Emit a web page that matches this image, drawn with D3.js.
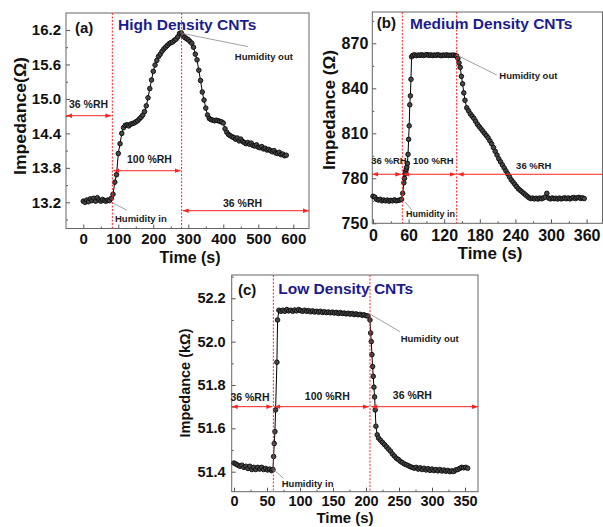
<!DOCTYPE html>
<html lang="en">
<head>
<meta charset="UTF-8">
<title>Impedance response of CNT humidity sensors</title>
<script src="https://d3js.org/d3.v7.min.js"></script>
<style>
  body { margin: 0; background: #fff; }
  svg text { font-family: Arial, "Liberation Sans", sans-serif; font-weight: bold; }
</style>
</head>
<body>
<svg id="chart" width="603" height="527"></svg>
<script>
// (a) high density CNTs, impedance in ohm, time in s
const aTime = [0,5,10,15,20,25,30,35,40,45,50,55,60,65,70,75,80,85,90,95,
  100,105,110,115,120,125,130,135,140,145,150,155,160,165,170,175,180,185,190,195,
  200,205,210,215,220,225,230,235,240,245,250,255,260,265,270,275,280,285,290,295,
  300,305,310,315,320,325,330,335,340,345,350,355,360,365,370,375,380,385,390,395,
  400,405,410,415,420,425,430,435,440,445,450,455,460,465,470,475,480,485,490,495,
  500,505,510,515,520,525,530,535,540,545,550,555,560,565,570,575,580];
const aImp = [13.22,13.20,13.24,13.21,13.26,13.23,13.27,13.22,13.28,13.24,
  13.22,13.25,13.23,13.22,13.24,13.23,13.27,13.34,13.55,13.68,
  14.05,14.22,14.40,14.50,14.54,14.55,14.53,14.56,14.57,14.58,
  14.60,14.62,14.65,14.68,14.72,14.78,14.88,15.02,15.18,15.33,
  15.48,15.59,15.67,15.74,15.78,15.83,15.87,15.90,15.93,15.96,
  15.98,15.99,16.02,16.04,16.08,16.14,16.15,16.10,16.07,16.05,
  16.03,16.00,15.97,15.90,15.78,15.68,15.50,15.32,15.12,14.98,
  14.84,14.72,14.66,14.64,14.63,14.62,14.63,14.62,14.61,14.60,
  14.58,14.48,14.42,14.38,14.36,14.34,14.33,14.30,14.32,14.27,
  14.30,14.26,14.24,14.22,14.24,14.21,14.23,14.19,14.18,14.20,
  14.16,14.15,14.17,14.13,14.14,14.11,14.12,14.10,14.08,14.10,
  14.06,14.05,14.07,14.03,14.04,14.01,14.02];

// (b) medium density CNTs, impedance in ohm
const bTime = [0,3,6,9,12,15,18,21,24,27,30,33,36,39,42,45,48,
  50,52,53,54,55,56,57,58,59,60,61,62,63,64,65,
  67,70,73,76,79,82,85,88,91,94,97,100,103,106,109,112,115,118,121,124,127,130,133,136,139,
  141,143,145,147,149,151,153,155,158,161,164,167,170,173,176,179,182,185,188,191,194,197,200,203,
  206,209,212,215,218,221,224,227,230,233,236,239,242,245,248,251,254,257,260,263,
  266,269,272,275,278,281,284,287,290,293,296,299,302,305,308,311,314,317,320,323,326,329,332,335,
  338,341,344,347,350,353,356];
const bImp = [768,767.5,766,765.5,766,765,765.5,765,765.5,764.8,765.3,765,765.6,765,765.2,765.5,766,
  770,777,780,783,784.5,786,787.5,790,796,806,815,829,835,846,861,
  862,862.3,861.8,862.2,862,862.4,861.9,862.2,862.5,862,862.3,861.9,862.2,862,862.4,862.1,861.8,862.2,862,862.3,861.9,862.1,862,862.2,861.8,
  861.5,860,857,854,848,843,837,832,827,825,823,821.5,820,818,816,814.5,813,811.5,810,808.5,807,805,803,800.5,
  798,795.5,793,791,789,787,785,783,781,779,777.5,776,774.5,773,772,771,770,769,768,767,
  766.5,766.8,766.3,766.7,766.2,766.8,766.4,766.9,767.5,770,766.8,766.3,766.9,766.4,766.7,766.2,766.8,766.3,766.6,767,766.4,766.9,766.3,766.8,
  767.2,766.5,767,767.3,766.6,767,766.5];

// (c) low density CNTs, impedance in kilo-ohm
const cTime = [0,3,6,9,12,15,18,21,24,27,30,33,36,39,42,45,48,51,54,57,
  59,60,61,62,63,65,66,68,
  71,74,77,80,83,86,89,92,95,98,101,104,107,110,113,116,119,122,125,128,131,134,137,140,143,
  146,149,152,155,158,161,164,167,170,173,176,179,182,185,188,191,194,197,200,203,
  206,207,208,209,210,211,212,213,214,215,217,219,
  222,225,228,231,234,237,240,243,246,249,252,255,258,261,264,267,270,273,276,279,282,285,288,
  291,294,297,300,303,306,309,312,315,318,321,324,327,330,333,336,339,342,345,348,351,354];
const cImp = [51.44,51.435,51.43,51.425,51.43,51.42,51.425,51.415,51.425,51.41,51.42,51.41,51.42,51.412,51.42,51.41,51.415,51.408,51.412,51.405,
  51.41,51.47,51.53,51.585,51.685,51.905,52.10,52.145,
  52.14,52.145,52.14,52.148,52.142,52.145,52.14,52.146,52.142,52.148,52.143,52.14,52.145,52.14,52.143,52.138,52.142,52.137,52.14,52.136,52.14,52.135,52.138,52.134,52.137,
  52.133,52.136,52.132,52.135,52.13,52.134,52.13,52.132,52.128,52.131,52.127,52.13,52.125,52.128,52.124,52.126,52.122,52.124,52.12,52.118,
  52.10,52.04,52.00,51.94,51.885,51.84,51.79,51.745,51.685,51.61,51.57,51.555,
  51.545,51.535,51.525,51.515,51.505,51.495,51.482,51.472,51.462,51.456,51.448,51.442,51.436,51.432,51.428,51.423,51.42,51.416,51.42,51.412,51.418,51.41,51.416,
  51.408,51.414,51.406,51.412,51.405,51.41,51.404,51.41,51.403,51.408,51.402,51.406,51.4,51.404,51.401,51.408,51.41,51.415,51.42,51.418,51.42,51.416];

// tick values
const aXTicks = [0,100,200,300,400,500,600];
const aYTicks = [13.2,13.8,14.4,15.0,15.6,16.2];
const bXTicks = [0,60,120,180,240,300,360];
const bYTicks = [750,780,810,840,870];
const cXTicks = [0,50,100,150,200,250,300,350];
const cYTicks = [51.4,51.6,51.8,52.0,52.2];

const svg = d3.select("#chart");
const red = "#ff2424";

// arrow head used on both ends of the red RH arrows
svg.append("defs").append("marker")
    .attr("id", "arrow")
    .attr("viewBox", "0 0 6 4.5")
    .attr("refX", 6).attr("refY", 2.25)
    .attr("markerWidth", 6).attr("markerHeight", 4.5)
    .attr("markerUnits", "userSpaceOnUse")
    .attr("preserveAspectRatio", "none")
    .attr("orient", "auto-start-reverse")
  .append("path")
    .attr("d", "M0,0L6,2.25L0,4.5z")
    .attr("fill", red);

function drawPanel(p) {
    const g = svg.append("g");
    const x = d3.scaleLinear().domain(p.xDomain).range([p.left, p.right]);
    const y = d3.scaleLinear().domain(p.yDomain).range([p.bottom, p.top]);

    // axes, ticks pointing inwards
    const xa = g.append("g")
        .attr("transform", `translate(0,${p.bottom})`)
        .call(d3.axisBottom(x).tickValues(p.xTicks).tickFormat(d3.format("d"))
            .tickSizeInner(-4).tickSizeOuter(0).tickPadding(p.xPad));
    g.append("g")
        .attr("transform", `translate(0,${p.bottom})`)
        .call(d3.axisBottom(x).tickValues(p.xMinor).tickFormat("").tickSizeInner(-2).tickSizeOuter(0));
    const ya = g.append("g")
        .attr("transform", `translate(${p.left},0)`)
        .call(d3.axisLeft(y).tickValues(p.yTicks).tickFormat(d3.format(p.yFmt))
            .tickSizeInner(-4).tickSizeOuter(0).tickPadding(p.yPad));
    g.append("g")
        .attr("transform", `translate(${p.left},0)`)
        .call(d3.axisLeft(y).tickValues(p.yMinor).tickFormat("").tickSizeInner(-2).tickSizeOuter(0));

    g.selectAll(".domain").remove();
    g.selectAll(".tick line").attr("stroke", "#555");
    xa.attr("font-size", p.tickFont).selectAll("text").attr("fill", "#111");
    ya.attr("font-size", p.tickFont).selectAll("text").attr("fill", "#111");

    // frame
    g.append("rect")
        .attr("x", p.left).attr("y", p.top)
        .attr("width", p.right - p.left).attr("height", p.bottom - p.top)
        .attr("fill", "none").attr("stroke", "#666").attr("stroke-width", 1);

    // impedance trace
    const pts = p.time.map((t, i) => ({ t: t, v: p.imp[i] }));
    g.append("path")
        .datum(pts)
        .attr("fill", "none")
        .attr("stroke", "#000")
        .attr("stroke-width", 1)
        .attr("d", d3.line().x(d => x(d.t)).y(d => y(d.v)));
    g.selectAll(".pt")
        .data(pts)
        .enter()
        .append("circle")
        .attr("cx", d => x(d.t))
        .attr("cy", d => y(d.v))
        .attr("r", 2.3)
        .attr("fill", "#474747")
        .attr("stroke", "#0a0a0a")
        .attr("stroke-width", 0.9);

    // humidity in / out switching lines
    p.vlines.forEach(t => {
        g.append("line")
            .attr("x1", x(t)).attr("x2", x(t))
            .attr("y1", p.top).attr("y2", p.bottom)
            .attr("stroke", red).attr("stroke-width", 1)
            .attr("stroke-dasharray", "2,1.5");
    });

    // RH arrows
    p.arrows.forEach(a => {
        const x1 = a.from === null ? p.left : x(a.from) + 1;
        const x2 = a.to === null ? p.right : x(a.to) - 1;
        g.append("line")
            .attr("x1", x1).attr("x2", x2)
            .attr("y1", y(a.v)).attr("y2", y(a.v))
            .attr("stroke", red).attr("stroke-width", 1)
            .attr("marker-start", "url(#arrow)")
            .attr("marker-end", a.noEnd ? null : "url(#arrow)");
    });

    // leader lines for the humidity labels
    p.leaders.forEach(l => {
        g.append("line")
            .attr("x1", x(l[0])).attr("y1", y(l[1]))
            .attr("x2", x(l[2])).attr("y2", y(l[3]))
            .attr("stroke", "#8a8a8a").attr("stroke-width", 0.8);
    });

    p.notes.forEach(n => {
        g.append("text")
            .attr("x", x(n.t)).attr("y", y(n.v))
            .attr("text-anchor", n.anchor || "middle")
            .attr("font-size", n.size)
            .attr("fill", "#1a1a1a")
            .text(n.text);
    });

    // panel letter and title
    g.append("text")
        .attr("x", p.left + p.tag[0]).attr("y", p.top + p.tag[1])
        .attr("font-size", 15).attr("fill", "#111")
        .text(p.letter);
    g.append("text")
        .attr("x", p.left + p.head[0]).attr("y", p.top + p.head[1])
        .attr("font-size", 15.5).attr("fill", "#1c1c8e")
        .text(p.title);

    // axis titles
    g.append("text")
        .attr("x", p.xLabel[0]).attr("y", p.xLabel[1])
        .attr("text-anchor", "middle")
        .attr("font-size", p.xLabel[2]).attr("fill", "#111")
        .text("Time (s)");
    g.append("text")
        .attr("transform", `translate(${p.yLabel[0]},${p.yLabel[1]}) rotate(-90)`)
        .attr("text-anchor", "middle")
        .attr("y", "0.26em")
        .attr("font-size", p.yLabel[2])
        .attr("textLength", p.yLabel[3])
        .attr("lengthAdjust", "spacingAndGlyphs")
        .attr("fill", "#111")
        .text(p.yText);
}

drawPanel({
    left: 66, top: 13, right: 309, bottom: 228.5,
    xDomain: [-49.4, 644.9], yDomain: [12.744, 16.496],
    xTicks: aXTicks, xMinor: [50,150,250,350,450,550],
    yTicks: aYTicks, yMinor: [12.9,13.5,14.1,14.7,15.3,15.9],
    yFmt: ".1f", tickFont: 15, xPad: 5, yPad: 5,
    time: aTime, imp: aImp,
    vlines: [83, 281],
    arrows: [{ v: 14.708, from: null, to: 83 }, { v: 13.75, from: 83, to: 281 }, { v: 13.054, from: 281, to: null }],
    leaders: [[85.7, 13.183, 124, 13.066], [281, 16.143, 471, 15.91]],
    notes: [
        { text: "36 %RH", t: 15, v: 14.84, size: 10.5 },
        { text: "100 %RH", t: 189, v: 13.884, size: 10.5 },
        { text: "36 %RH", t: 455, v: 13.118, size: 10.5 },
        { text: "Humidity in", t: 90.6, v: 12.857, size: 9.5, anchor: "start" },
        { text: "Humidity out", t: 433, v: 15.68, size: 9.5, anchor: "start" }
    ],
    letter: "(a)", tag: [9, 20], title: "High Density CNTs", head: [52, 17],
    xLabel: [190, 262.5, 16], yLabel: [21.5, 116, 16, 118], yText: "Impedance(\u03A9)"
});

drawPanel({
    left: 372.3, top: 12, right: 602.5, bottom: 223.3,
    xDomain: [-1.2, 386.8], yDomain: [750, 890.9],
    xTicks: bXTicks, xMinor: [30,90,150,210,270,330],
    yTicks: bYTicks, yMinor: [765,795,825,855,885],
    yFmt: "d", tickFont: 16, xPad: 6.5, yPad: 4,
    time: bTime, imp: bImp,
    vlines: [49.4, 141],
    arrows: [{ v: 782.7, from: null, to: 49.4 }, { v: 782.7, from: 49.4, to: 141 }, { v: 782.7, from: 141, to: null, noEnd: true }],
    leaders: [[54, 764.4, 65.2, 758.9], [141, 862.2, 208.5, 848.9]],
    notes: [
        { text: "36 %RH", t: 27, v: 789.5, size: 9.5 },
        { text: "100 %RH", t: 101.6, v: 789.5, size: 9.5 },
        { text: "36 %RH", t: 271, v: 786, size: 9.5 },
        { text: "Humidity in", t: 55.6, v: 754.2, size: 9, anchor: "start" },
        { text: "Humidity out", t: 212.9, v: 846.2, size: 9.5, anchor: "start" }
    ],
    letter: "(b)", tag: [4.5, 16], title: "Medium Density CNTs", head: [37.7, 17],
    xLabel: [490, 258.5, 17], yLabel: [331, 110, 16, 120], yText: "Impedance (\u03A9)"
});

drawPanel({
    left: 231.7, top: 275, right: 478, bottom: 491.7,
    xDomain: [-3.5, 369.7], yDomain: [51.3077, 52.3075],
    xTicks: cXTicks, xMinor: [25,75,125,175,225,275,325],
    yTicks: cYTicks, yMinor: [51.5,51.7,51.9,52.1,52.3],
    yFmt: ".1f", tickFont: 14.5, xPad: 4, yPad: 6,
    time: cTime, imp: cImp,
    vlines: [59.6, 206],
    arrows: [{ v: 51.70, from: null, to: 59.6 }, { v: 51.70, from: 59.6, to: 206 }, { v: 51.70, from: 206, to: null }],
    leaders: [[60.6, 51.408, 74.7, 51.37], [208.6, 52.123, 251.5, 52.046]],
    notes: [
        { text: "36 %RH", t: 24.2, v: 51.728, size: 10.5 },
        { text: "100 %RH", t: 141.4, v: 51.731, size: 10.5 },
        { text: "36 %RH", t: 270.3, v: 51.735, size: 10.5 },
        { text: "Humidity in", t: 72.3, v: 51.329, size: 9.5, anchor: "start" },
        { text: "Humidity out", t: 252.6, v: 51.998, size: 9.5, anchor: "start" }
    ],
    letter: "(c)", tag: [6.3, 19.5], title: "Low Density CNTs", head: [46.6, 19],
    xLabel: [345, 523.4, 15], yLabel: [186, 383, 15, 109], yText: "Impedance (k\u03A9)"
});
</script>
</body>
</html>
